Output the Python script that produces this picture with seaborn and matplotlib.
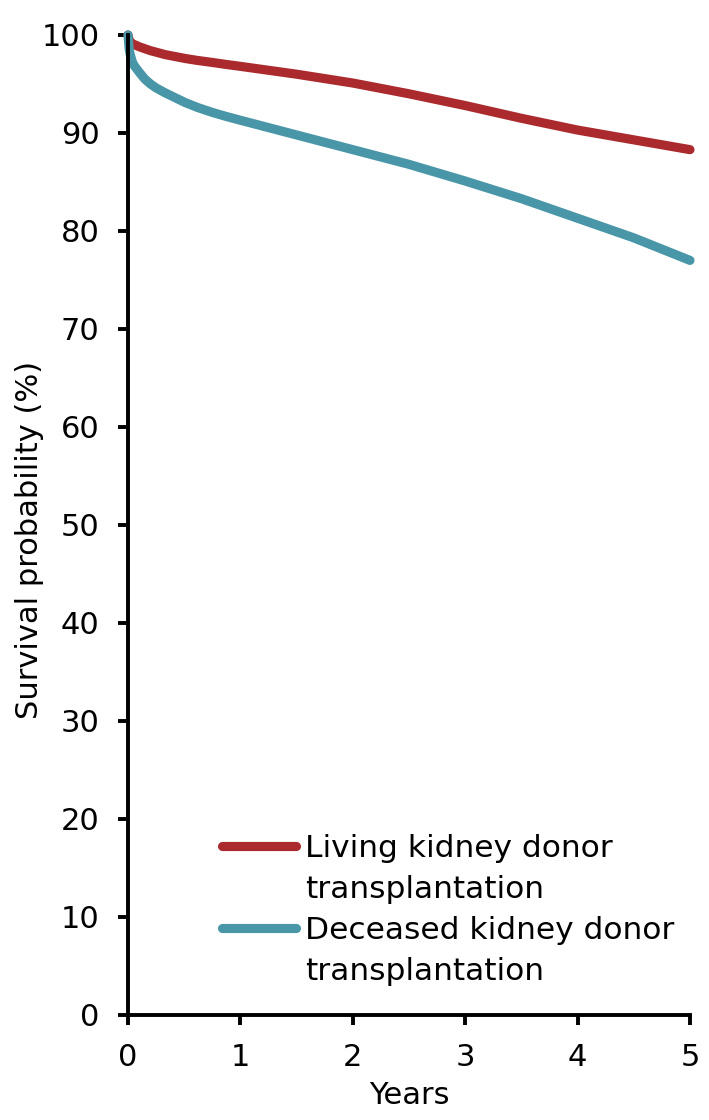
import matplotlib
matplotlib.use("Agg")
import matplotlib.pyplot as plt
from matplotlib.lines import Line2D
import seaborn as sns
import pandas as pd

years = [0, 0.01, 0.02, 0.04, 0.06, 0.1, 0.15, 0.2, 0.25, 0.33, 0.42, 0.51, 0.62, 0.75, 0.87,
         1.0, 1.5, 2.0, 2.5, 3.0, 3.5, 4.0, 4.5, 5.0]
living = [100, 99.5, 99.3, 99.1, 99.0, 98.8, 98.6, 98.4, 98.25, 98.0, 97.8, 97.6, 97.4, 97.2, 97.0,
          96.8, 96.0, 95.1, 94.0, 92.8, 91.5, 90.3, 89.3, 88.3]
deceased = [100, 98.6, 98.0, 97.2, 96.8, 96.2, 95.5, 95.0, 94.6, 94.1, 93.6, 93.1, 92.6, 92.1, 91.7,
            91.3, 89.8, 88.3, 86.8, 85.1, 83.3, 81.3, 79.3, 77.0]
groups = ["Living kidney donor transplantation", "Deceased kidney donor transplantation"]
colors = ["#AB2A2D", "#4896A7"]
xticks = [0, 1, 2, 3, 4, 5]
yticks = [0, 10, 20, 30, 40, 50, 60, 70, 80, 90, 100]

df = pd.DataFrame({
    "Years": years + years,
    "Survival": living + deceased,
    "Group": [groups[0]] * len(years) + [groups[1]] * len(years),
})

sns.set_theme(style="ticks")
plt.rcParams["font.family"] = ["DejaVu Sans"]
plt.rcParams["text.color"] = "black"
plt.rcParams["axes.labelcolor"] = "black"

fig = plt.figure(figsize=(7.09, 11.2), dpi=100)
ax = fig.add_axes([128 / 709, 1 - 1015 / 1120, 562 / 709, 980 / 1120])

sns.lineplot(data=df, x="Years", y="Survival", hue="Group", hue_order=groups,
             palette=colors, linewidth=6.6, legend=False, ax=ax, sort=False)
for ln in ax.get_lines():
    ln.set_solid_capstyle("round")
    ln.set_solid_joinstyle("round")
    ln.set_clip_on(False)

ax.set_xlim(0, 5)
ax.set_ylim(0, 100)
ax.set_xticks(xticks)
ax.set_yticks(yticks)
ax.set_xticklabels([str(t) for t in xticks])
ax.set_yticklabels([str(t) for t in yticks])

for s in ["top", "right"]:
    ax.spines[s].set_visible(False)
for s in ["left", "bottom"]:
    ax.spines[s].set_linewidth(2.8)
    ax.spines[s].set_color("black")

ax.tick_params(axis="both", direction="out", length=7.5, width=2.8, color="black",
               labelsize=22, labelcolor="black", pad=13)

ax.set_xlabel("Years", fontsize=22, color="black", labelpad=6)
ax.set_ylabel("Survival probability (%)", fontsize=22, color="black")
ax.yaxis.set_label_coords(-0.149, 0.485)

blank = Line2D([], [], linestyle="none")
handles = [
    Line2D([], [], color=colors[0], lw=6.6, solid_capstyle="round"), blank,
    Line2D([], [], color=colors[1], lw=6.6, solid_capstyle="round"), blank,
]
labels = ["Living kidney donor", "transplantation", "Deceased kidney donor", "transplantation"]
leg = ax.legend(handles, labels, loc="upper left", bbox_to_anchor=(0.167, 0.185),
                frameon=False, fontsize=22.5, handlelength=2.37, handletextpad=0.28,
                labelspacing=0.39, borderpad=0, borderaxespad=0)
for t in leg.get_texts():
    t.set_color("black")

fig.savefig("out.png", dpi=100, facecolor="white")
